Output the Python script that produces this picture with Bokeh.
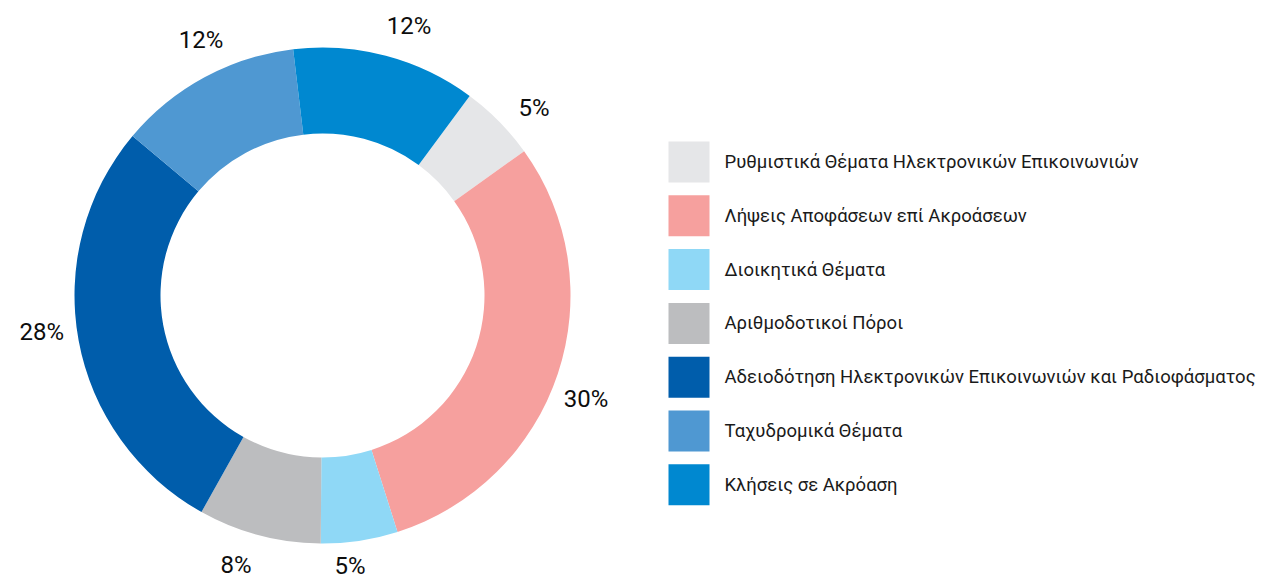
import math
from bokeh.plotting import figure
from bokeh.models import Range1d, ColumnDataSource
from bokeh.core.properties import value
from bokeh.embed import file_html
from bokeh.resources import INLINE

categories = [
    "Ρυθμιστικά Θέματα Ηλεκτρονικών Επικοινωνιών",
    "Λήψεις Αποφάσεων επί Ακροάσεων",
    "Διοικητικά Θέματα",
    "Αριθμοδοτικοί Πόροι",
    "Αδειοδότηση Ηλεκτρονικών Επικοινωνιών και Ραδιοφάσματος",
    "Ταχυδρομικά Θέματα",
    "Κλήσεις σε Ακρόαση",
]
values = [5, 30, 5, 8, 28, 12, 12]
colors = ["#e5e6e8", "#f6a09e", "#8fd8f6", "#bcbdbf", "#005dab", "#4f98d2", "#0088d0"]
labels = [f"{v}%" for v in values]

W, H = 1266, 580
p = figure(width=W, height=H, output_backend="svg", toolbar_location=None,
           x_range=Range1d(0, W), y_range=Range1d(0, H), min_border=0)
p.axis.visible = False
p.grid.visible = False
p.outline_line_color = None

cx, cy = 322, 285
r_in, r_out, r_lab = 162, 248, 283
start_deg = 36.4  # clockwise from top
lab_shift = 3.0
edge_pad = 15  # keep labels inside the canvas

total = sum(values)
theta = start_deg
starts, ends, lx, ly = [], [], [], []
for v in values:
    span = 360.0 * v / total
    t0, t1 = theta, theta + span
    starts.append(math.radians(90 - t1))
    ends.append(math.radians(90 - t0))
    mid = math.radians(90 - ((t0 + t1) / 2 + lab_shift))
    lx.append(cx + r_lab * math.cos(mid))
    ly.append(min(max(cy + r_lab * math.sin(mid), edge_pad), H - edge_pad))
    theta = t1

src = ColumnDataSource(dict(start=starts, end=ends, color=colors, lx=lx, ly=ly,
                            lab=labels, x=[cx] * len(values), y=[cy] * len(values)))
p.annular_wedge(x="x", y="y", inner_radius=r_in, outer_radius=r_out,
                start_angle="start", end_angle="end", fill_color="color",
                line_color=None, source=src)
p.text(x="lx", y="ly", text="lab", source=src, text_align="center",
       text_baseline="middle", text_font=value("Roboto"), text_font_size="24px",
       text_color="#0d0d0d", text_font_style="normal")

# legend
leg_x, leg_top, sq, step = 668, H - 141, 41, 53.8
gx = [leg_x + sq / 2] * len(categories)
gy = [leg_top - sq / 2 - i * step for i in range(len(categories))]
tx = [leg_x + sq + 15] * len(categories)
lsrc = ColumnDataSource(dict(gx=gx, gy=gy, tx=tx, color=colors, name=categories))
p.rect(x="gx", y="gy", width=sq, height=sq, fill_color="color", line_color=None, source=lsrc)
p.text(x="tx", y="gy", text="name", source=lsrc, text_align="left", text_baseline="middle",
       text_font=value("Roboto"), text_font_size="18.5px", text_color="#1a1a1a")

open("out.html", "w").write(file_html(p, INLINE))
